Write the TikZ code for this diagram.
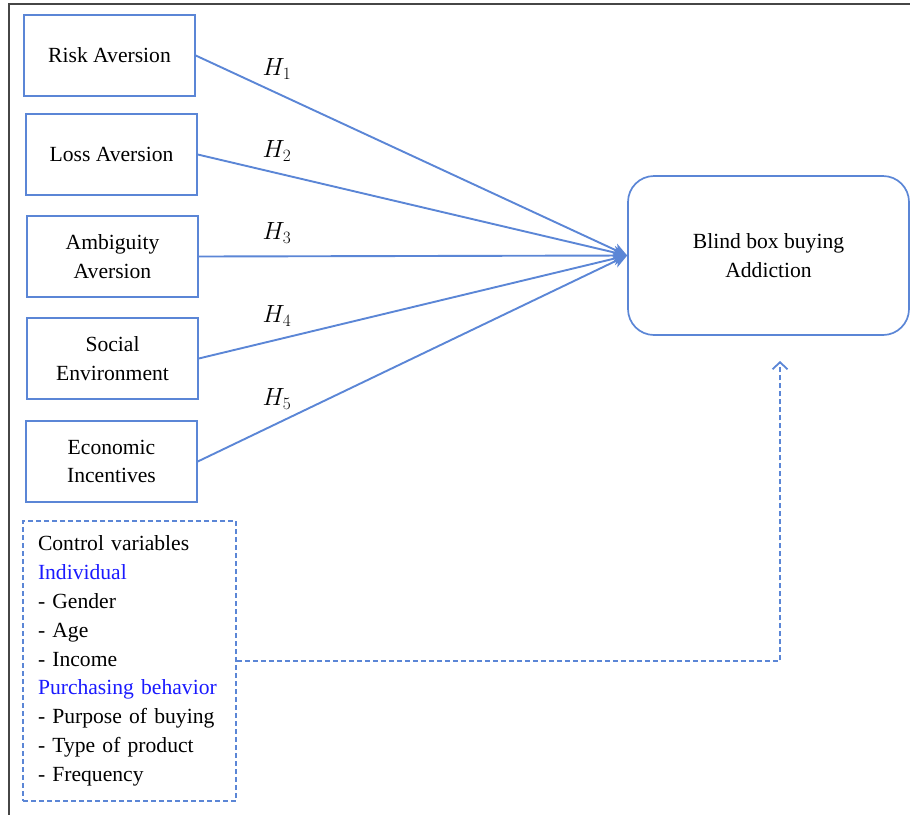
\documentclass[tikz,border=0pt]{standalone}
\usepackage{fontspec}
\setmainfont{Liberation Serif}
\usetikzlibrary{arrows.meta}
\definecolor{lblue}{HTML}{5B86D6}
\definecolor{tblue}{HTML}{1A1AFF}
\begin{document}
\begin{tikzpicture}[x=1pt,y=-1pt,
  every node/.style={font=\fontsize{21.6}{28.8}\selectfont},
  box/.style={draw=lblue, line width=1.5pt, minimum width=171pt, minimum height=81pt, inner sep=0pt, align=center},
  target/.style={draw=lblue, line width=1.7pt, rounded corners=26pt, minimum width=281pt, minimum height=159pt, inner sep=0pt, align=center},
  ctrl/.style={draw=lblue, line width=1.5pt, dash pattern=on 5pt off 3pt, text width=183pt, inner xsep=15pt, minimum height=280pt, align=left},
  arr/.style={draw=lblue, line width=1.9pt, -{Stealth[length=14pt,width=13pt,inset=4pt]}},
  darr/.style={draw=lblue, line width=1.6pt, dash pattern=on 5pt off 3pt, -{Straight Barb[length=7pt,width=15pt,line width=1.8pt]}},
  hlab/.style={font=\fontsize{23}{26}\selectfont}
]
\useasboundingbox (0,0) rectangle (910,815);
\draw[line width=1.8pt, gray!55!black] (910,4) -- (9,4) -- (9,815);

\node[box] (ra) at (109.5,55.5) {Risk Aversion};
\node[box] (la) at (111.5,154.5) {Loss Aversion};
\node[box] (aa) at (112.5,256.5) {Ambiguity\\Aversion};
\node[box] (se) at (112.5,358.5) {Social\\Environment};
\node[box] (ei) at (111.5,461.5) {Economic\\Incentives};

\node[target] (bb) at (768.5,255.5) {Blind box buying\\Addiction};

\node[ctrl] (cv) at (129.5,661) {Control variables\\
\textcolor{tblue}{Individual}\\
- Gender\\
- Age\\
- Income\\
\textcolor{tblue}{Purchasing behavior}\\
- Purpose of buying\\
- Type of product\\
- Frequency};

\draw[arr] (ra.east) -- (bb.west);
\draw[arr] (la.east) -- (bb.west);
\draw[arr] (aa.east) -- (bb.west);
\draw[arr] (se.east) -- (bb.west);
\draw[arr] (ei.east) -- (bb.west);

\node[hlab] (h1) at (277,69) {$H_1$};
\node[hlab] (h2) at (277,151) {$H_2$};
\node[hlab] (h3) at (277,233) {$H_3$};
\node[hlab] (h4) at (277,316) {$H_4$};
\node[hlab] (h5) at (277,399) {$H_5$};

\coordinate (dtip) at (780,361);
\draw[darr] (cv.east) -| (dtip);
\end{tikzpicture}
\end{document}
